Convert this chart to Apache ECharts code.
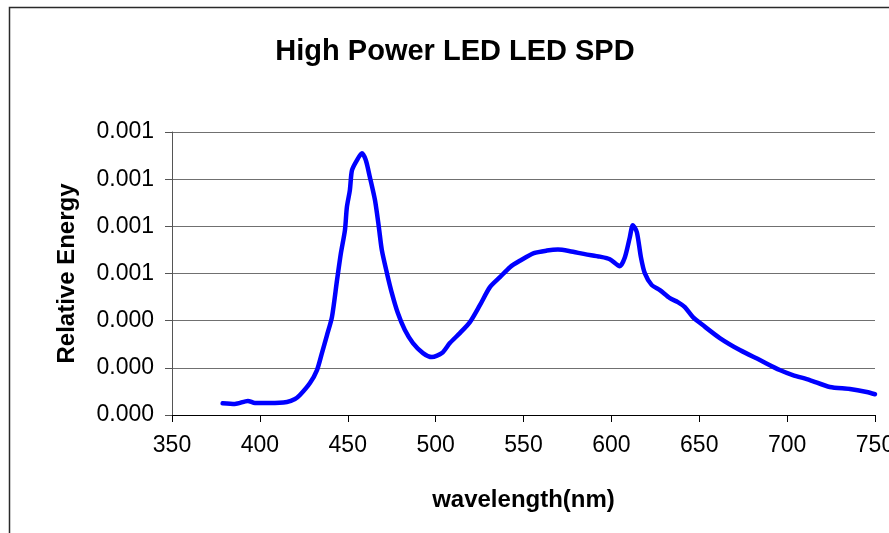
<!DOCTYPE html>
<html>
<head>
<meta charset="utf-8">
<script src="https://cdn.jsdelivr.net/npm/echarts@6/dist/echarts.min.js"></script>
<style>
  html, body { margin: 0; padding: 0; background: #fff; }
  #chart { width: 889px; height: 533px; }
</style>
</head>
<body>
<div id="chart"></div>
<script>
// Spectral power distribution of a high power white LED
const wavelengths = [
  378.8, 385.8, 393.2, 397.2, 405.7, 415.4, 420.0, 422.8, 428.5, 432.5,
  435.3, 438.2, 441.0, 443.9, 446.1, 448.4, 449.5, 451.2, 452.4, 455.2,
  458.1, 460.3, 462.6, 465.5, 467.7, 469.4, 472.3, 475.1, 478.5, 482.5,
  487.1, 492.8, 497.9, 503.6, 508.1, 513.8, 519.5, 525.2, 530.9, 536.6,
  542.3, 547.9, 555.9, 563.3, 569.6, 576.4, 584.9, 593.4, 599.1, 604.8,
  607.7, 610.5, 612.2, 614.5, 616.8, 619.0, 623.0, 627.6, 633.3, 637.8,
  641.8, 646.4, 652.0, 661.7, 673.1, 684.5, 695.8, 703.2, 712.9, 724.3,
  735.7, 745.3, 750.0
];
const energy = [
  0.0000496, 0.0000466, 0.0000598, 0.0000508, 0.0000508, 0.0000551, 0.0000678, 0.0000847, 0.0001355, 0.0001906,
  0.0002626, 0.0003389, 0.0004151, 0.0005718, 0.0006862, 0.0007836, 0.0008811, 0.0009531, 0.0010378, 0.0010801,
  0.0011098, 0.0010801, 0.0010081, 0.0009107, 0.0007963, 0.0006989, 0.0006015, 0.0005168, 0.0004321, 0.0003600,
  0.0003050, 0.0002626, 0.0002457, 0.0002626, 0.0003050, 0.0003473, 0.0003939, 0.0004659, 0.0005422, 0.0005845,
  0.0006269, 0.0006540, 0.0006862, 0.0006972, 0.0007015, 0.0006947, 0.0006820, 0.0006714, 0.0006608, 0.0006311,
  0.0006693, 0.0007540, 0.0008048, 0.0007752, 0.0006693, 0.0006015, 0.0005507, 0.0005295, 0.0004956, 0.0004787,
  0.0004575, 0.0004151, 0.0003812, 0.0003262, 0.0002753, 0.0002330, 0.0001906, 0.0001694, 0.0001483, 0.0001186,
  0.0001101, 0.0000974, 0.0000880
];

const titleText = 'High Power LED LED SPD';
const xName = 'wavelength(nm)';
const yName = 'Relative Energy';
const xMin = 350, xMax = 750, xStep = 50;
const yMin = 0, yMax = 0.0012, yStep = 0.0002;

const font = '"Liberation Sans", Arial, sans-serif';
const chart = echarts.init(document.getElementById('chart'), null, { renderer: 'canvas' });

chart.setOption({
  animation: false,
  backgroundColor: '#ffffff',
  title: {
    text: titleText,
    left: 450,
    top: 32,
    textAlign: 'center',
    textStyle: { fontFamily: font, fontSize: 29, fontWeight: 'bold', color: '#000' }
  },
  graphic: [{
    type: 'rect',
    shape: { x: 9.5, y: 7.5, width: 1000, height: 700 },
    style: { fill: 'none', stroke: '#2a2a2a', lineWidth: 1.5 },
    silent: true,
    z: -1
  }],
  grid: {
    left: 172, right: 14, top: 132, bottom: 118,
    containLabel: false,
    outerBoundsMode: 'none'
  },
  xAxis: {
    type: 'value',
    min: xMin, max: xMax, interval: xStep,
    name: xName,
    nameLocation: 'middle',
    nameGap: 73,
    nameTextStyle: { fontFamily: font, fontSize: 24, fontWeight: 'bold', color: '#000' },
    axisLine: { show: true, lineStyle: { color: '#000', width: 1 } },
    axisTick: { show: true, inside: false, length: 7, lineStyle: { color: '#000' } },
    axisLabel: { margin: 19, fontFamily: font, fontSize: 23, color: '#000', hideOverlap: false },
    splitLine: { show: false }
  },
  yAxis: {
    type: 'value',
    min: yMin, max: yMax, interval: yStep,
    name: yName,
    nameLocation: 'middle',
    nameRotate: 90,
    nameGap: 93,
    nameTextStyle: { fontFamily: font, fontSize: 24, fontWeight: 'bold', color: '#000' },
    axisLine: { show: true, lineStyle: { color: '#555', width: 1 } },
    axisTick: { show: true, inside: false, length: 7, lineStyle: { color: '#555' } },
    axisLabel: {
      margin: 18, fontFamily: font, fontSize: 23, color: '#000',
      formatter: v => v.toFixed(3)
    },
    splitLine: { show: true, lineStyle: { color: '#707070', width: 1.2 } }
  },
  series: [{
    type: 'line',
    data: wavelengths.map((w, i) => [w, energy[i]]),
    showSymbol: false,
    symbol: 'none',
    smooth: 0.25,
    lineStyle: { color: '#0000ff', width: 4.5, cap: 'round', join: 'round' },
    clip: true
  }]
});
</script>
</body>
</html>
